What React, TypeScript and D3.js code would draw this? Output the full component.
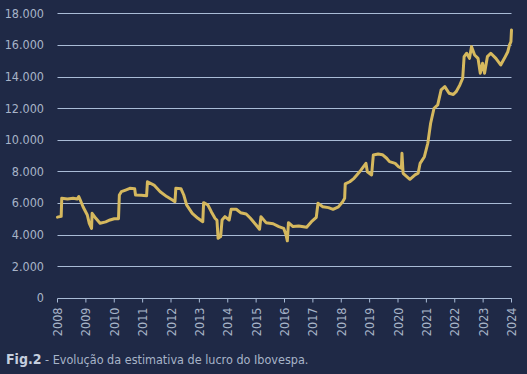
import React from "react";
import * as d3 from "d3";

const years: number[] = [
  2008.0, 2008.13, 2008.15, 2008.35, 2008.55, 2008.7, 2008.75, 2008.8, 2008.9, 2009.05,
  2009.12, 2009.2, 2009.22, 2009.35, 2009.5, 2009.7, 2009.85, 2010.0, 2010.15, 2010.18,
  2010.25, 2010.4, 2010.55, 2010.72, 2010.75, 2010.95, 2011.14, 2011.17, 2011.4, 2011.62,
  2011.85, 2012.05, 2012.14, 2012.17, 2012.35, 2012.45, 2012.55, 2012.75, 2012.95, 2013.12,
  2013.15, 2013.3, 2013.42, 2013.55, 2013.62, 2013.66, 2013.75, 2013.8, 2013.9, 2014.05,
  2014.12, 2014.3, 2014.45, 2014.65, 2014.8, 2015.0, 2015.12, 2015.17, 2015.35, 2015.6,
  2015.8, 2015.97, 2016.05, 2016.1, 2016.14, 2016.3, 2016.5, 2016.78, 2016.95, 2017.12,
  2017.18, 2017.35, 2017.55, 2017.71, 2017.9, 2018.05, 2018.12, 2018.14, 2018.3, 2018.45,
  2018.55, 2018.7, 2018.87, 2018.92, 2019.07, 2019.13, 2019.3, 2019.45, 2019.6, 2019.7,
  2019.9, 2020.02, 2020.12, 2020.14, 2020.18, 2020.42, 2020.6, 2020.71, 2020.78, 2020.93,
  2021.05, 2021.15, 2021.27, 2021.4, 2021.52, 2021.65, 2021.8, 2021.95, 2022.05, 2022.18,
  2022.28, 2022.33, 2022.42, 2022.52, 2022.59, 2022.7, 2022.82, 2022.9, 2022.98, 2023.05,
  2023.15, 2023.27, 2023.45, 2023.62, 2023.75, 2023.87, 2023.93, 2023.98, 2024.0,
];

const lucro: number[] = [
  5100, 5150, 6300, 6250, 6300, 6250, 6400, 6200, 5760, 5235,
  4710, 4390, 5340, 5025, 4710, 4800, 4920, 5000, 5000, 6500,
  6710, 6815, 6925, 6900, 6500, 6480, 6450, 7340, 7130, 6710,
  6400, 6185, 6075, 6925, 6900, 6500, 5870, 5340, 5025, 4810,
  6015, 5870, 5445, 5025, 4900, 3760, 3870, 4920, 5130, 4920,
  5600, 5600, 5380, 5300, 5025, 4600, 4330, 5130, 4750, 4680,
  4495, 4390, 4000, 3600, 4750, 4500, 4540, 4455, 4810, 5090,
  5975, 5760, 5700, 5595, 5750, 6075, 6290, 7200, 7340, 7555,
  7770, 8085, 8505, 7975, 7770, 9030, 9100, 9050, 8825, 8610,
  8505, 8290, 8190, 9140, 7875, 7495, 7770, 7875, 8505, 8925,
  9775, 11040, 11990, 12200, 13150, 13360, 12940, 12860, 13040, 13465,
  13890, 15255, 15470, 15150, 15890, 15360, 15150, 14205, 14840, 14205,
  15255, 15470, 15150, 14730, 15150, 15570, 16000, 16205, 16945,
];

const yTicks: number[] = [0, 2000, 4000, 6000, 8000, 10000, 12000, 14000, 16000, 18000];
const xTicks: number[] = d3.range(2008, 2025);
const captionBold = "Fig.2";
const captionText = " - Evolução da estimativa de lucro do Ibovespa.";

const W = 527;
const H = 374;
const BG = "#1f2946";
const GRID = "#a9bbd6";
const TEXT = "#a7b4c8";
const LINE = "#d5b85e";
const FONT = "'DejaVu Sans Condensed', 'DejaVu Sans', sans-serif";

export default function App() {
  const x = d3.scaleLinear().domain([2008, 2024]).range([57.5, 511.5]);
  const y = d3.scaleLinear().domain([0, 18000]).range([297.7, 13.3]);
  const fmt = (v: number) => (v === 0 ? "0" : d3.format(",")(v).replace(/,/g, "."));
  const pts: [number, number][] = years.map((yr, i) => [yr, lucro[i]]);
  const line = d3
    .line<[number, number]>()
    .x((d) => x(d[0]))
    .y((d) => y(d[1]));

  return (
    <svg
      width={W}
      height={H}
      style={{ position: "absolute", left: 0, top: 0, display: "block" }}
      fontFamily={FONT}
    >
      <rect x={0} y={0} width={W} height={H} fill={BG} />
      {yTicks.map((t) => (
        <g key={t}>
          <line x1={x(2008)} x2={x(2024)} y1={Math.round(y(t)) + 0.5} y2={Math.round(y(t)) + 0.5} stroke={GRID} strokeWidth={1} />
          <text x={44} y={y(t)} dy="0.36em" textAnchor="end" fill={TEXT} fontSize={12.5}>
            {fmt(t)}
          </text>
        </g>
      ))}
      {xTicks.map((t) => (
        <g key={t} transform={`translate(${x(t)},${Math.round(y(0)) + 0.5})`}>
          <line y1={0} y2={4} stroke={GRID} strokeWidth={1} />
          <text
            transform="translate(0,9) rotate(-90)"
            textAnchor="end"
            dy="0.36em"
            fill={TEXT}
            fontSize={12.5}
          >
            {t}
          </text>
        </g>
      ))}
      <path d={line(pts) || ""} fill="none" stroke={LINE} strokeWidth={3} strokeLinejoin="round" strokeLinecap="round" />
      <text x={6} y={364} fontSize={12.5} fill={TEXT}>
        <tspan fontWeight="bold" fill="#c4cede" fontSize={14}>{captionBold}</tspan>
        <tspan>{captionText}</tspan>
      </text>
    </svg>
  );
}
